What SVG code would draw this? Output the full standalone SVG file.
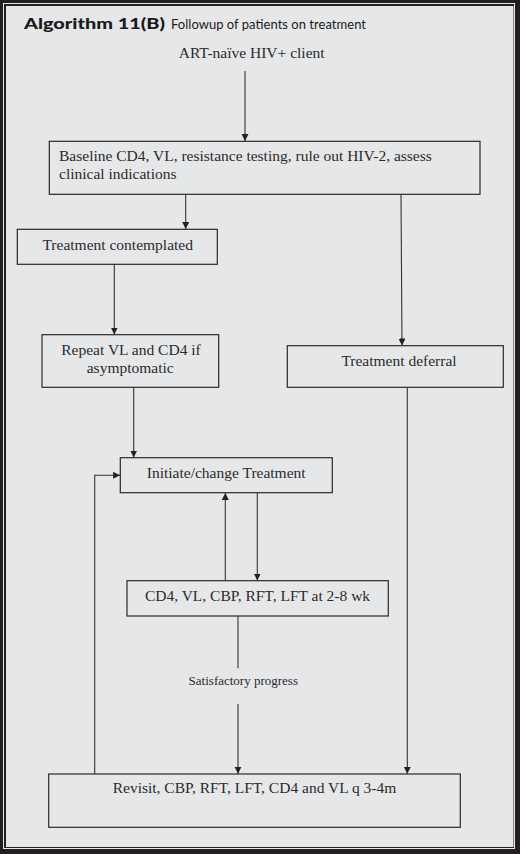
<svg xmlns="http://www.w3.org/2000/svg" width="520" height="854" viewBox="0 0 520 854">
<style>
.box{fill:none;stroke:#2b2a2b;stroke-width:1.2}
.t{font-family:"Liberation Serif","Times New Roman",serif;font-size:15.5px;fill:#2b2a2b;text-anchor:middle}
.s{font-size:13px}
.l{text-anchor:start}
.c{fill:none;stroke:#333;stroke-width:1.1}
.h{font-family:Lato,"Liberation Sans",sans-serif;font-size:14.5px;fill:#1a1a1a}
</style>
<defs>
<marker id="ah" markerUnits="userSpaceOnUse" markerWidth="8" markerHeight="8" refX="7" refY="3.5" orient="auto">
<path d="M0,0 L7,3.5 L0,7 z" fill="#222"/>
</marker>
</defs>
<rect x="0" y="0" width="520" height="854" fill="#231f20"/>
<rect x="3.5" y="3.5" width="511" height="845" fill="none" stroke="#e6e7e9" stroke-width="1"/>
<rect x="6" y="6" width="507.5" height="841" fill="#e6e7e9"/>
<g id="title">
<text class="h" x="24" y="29"><tspan font-weight="900" textLength="141" lengthAdjust="spacingAndGlyphs">Algorithm 11(B)</tspan><tspan x="171" y="29" font-weight="400" font-size="13" textLength="195" lengthAdjust="spacing">Followup of patients on treatment</tspan></text>
</g>
<g id="start">
<text class="t" x="251.7" y="58">ART-naïve HIV+ client</text>
</g>
<g id="baseline">
<rect class="box" x="49.3" y="141.3" width="430.7" height="53"/>
<text class="t l" x="59" y="160.7">Baseline CD4, VL, resistance testing, rule out HIV-2, assess</text>
<text class="t l" x="59" y="179">clinical indications</text>
</g>
<g id="contemplated">
<rect class="box" x="17.3" y="229.3" width="200" height="35"/>
<text class="t" x="117.7" y="249.5">Treatment contemplated</text>
</g>
<g id="repeat">
<rect class="box" x="42" y="334.7" width="176.7" height="52.6"/>
<text class="t" x="131" y="355">Repeat VL and CD4 if</text>
<text class="t" x="130.2" y="372.7">asymptomatic</text>
</g>
<g id="deferral">
<rect class="box" x="287.3" y="345.7" width="216" height="41.6"/>
<text class="t" x="399" y="366">Treatment deferral</text>
</g>
<g id="initiate">
<rect class="box" x="120.3" y="457.7" width="212" height="35"/>
<text class="t" x="226.2" y="477.7">Initiate/change Treatment</text>
</g>
<g id="tests">
<rect class="box" x="127" y="580.7" width="261.3" height="35.3"/>
<text class="t" x="257.5" y="600.7">CD4, VL, CBP, RFT, LFT at 2-8 wk</text>
</g>
<g id="revisit">
<rect class="box" x="48.7" y="774" width="411.6" height="53.3"/>
<text class="t" x="254.5" y="793.3">Revisit, CBP, RFT, LFT, CD4 and VL q 3-4m</text>
</g>
<g id="connectors">
<line class="c" x1="245" y1="71" x2="245" y2="141" marker-end="url(#ah)"/>
<line class="c" x1="185.7" y1="194.3" x2="185.7" y2="229" marker-end="url(#ah)"/>
<line class="c" x1="401" y1="194.3" x2="402" y2="345.5" marker-end="url(#ah)"/>
<line class="c" x1="114.3" y1="264.3" x2="114.3" y2="334.5" marker-end="url(#ah)"/>
<line class="c" x1="133.7" y1="387.3" x2="133.7" y2="457.5" marker-end="url(#ah)"/>
<line class="c" x1="407.3" y1="387.3" x2="407.3" y2="773.8" marker-end="url(#ah)"/>
<line class="c" x1="257.3" y1="492.7" x2="257.3" y2="580.5" marker-end="url(#ah)"/>
<line class="c" x1="225.3" y1="580.7" x2="225.3" y2="492.9" marker-end="url(#ah)"/>
<line class="c" x1="238" y1="616" x2="238" y2="668.3"/>
<text class="t s" x="243.3" y="685">Satisfactory progress</text>
<line class="c" x1="238" y1="704" x2="238" y2="773.8" marker-end="url(#ah)"/>
<polyline class="c" points="94.7,774 94.7,475.3 120.1,475.3" marker-end="url(#ah)"/>
</g>
</svg>
